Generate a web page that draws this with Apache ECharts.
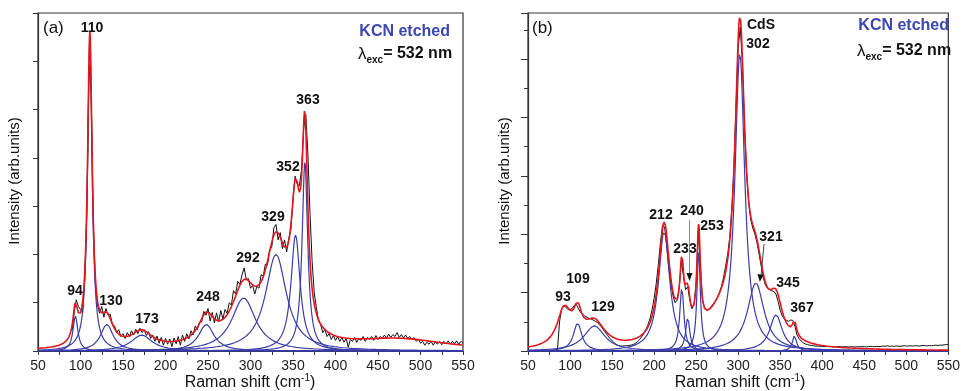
<!DOCTYPE html>
<html>
<head>
<meta charset="utf-8">
<script src="https://cdn.jsdelivr.net/npm/echarts@6.0.0/dist/echarts.min.js"></script>
<style>html,body{margin:0;padding:0;background:#fff;}#c{width:963px;height:391px;}</style>
</head>
<body>
<div id="c"></div>
<script>
// ---------------- data ----------------
const xTickLabels = [50, 100, 150, 200, 250, 300, 350, 400, 450, 500, 550];

// panel (a): fitted Lorentzian components (centre, height, FWHM)
const aPeakNames   = ['94', '110', '130', '173', '248', '292', '329', '352', '363'];
const aPeakCenters = [94, 111, 131, 172, 248, 292, 330, 353, 364];
const aPeakHeights = [0.72, 6.45, 0.55, 0.33, 0.55, 1.1, 2.0, 2.4, 3.9];
const aPeakWidths  = [7, 6.5, 18, 30, 22, 34, 30, 13, 8];
// broad background of the fit (not drawn as a component)
const aBackground  = [475, 0.22, 140];

// panel (a): measured spectrum, starting at 90 cm-1, every 2.5 cm-1
const aMeasuredStart = 90, aMeasuredStep = 2.5;
const aMeasured = [
 0.42,0.78,1.06,0.92,0.86,0.8,1.5,2.9,5.9,5.4,
 2.7,1.4,0.95,0.78,0.92,0.7,0.88,0.74,0.76,0.55,
 0.52,0.38,0.44,0.3,0.36,0.26,0.38,0.3,0.42,0.33,
 0.45,0.36,0.47,0.38,0.44,0.32,0.4,0.26,0.33,0.2,
 0.31,0.16,0.28,0.12,0.26,0.14,0.25,0.09,0.27,0.15,
 0.3,0.12,0.33,0.2,0.36,0.25,0.42,0.33,0.52,0.44,
 0.6,0.6,0.82,0.74,0.88,0.62,0.8,0.58,0.79,0.6,
 0.84,0.66,0.86,0.78,1.0,0.95,1.25,1.18,1.44,1.38,
 1.58,1.72,1.48,1.5,1.3,1.36,1.18,1.34,1.3,1.58,
 1.55,1.8,1.78,2.1,2.15,2.55,2.62,2.3,2.45,2.12,
 2.3,2.05,2.32,2.52,3.12,3.62,3.45,3.42,3.75,4.6,
 4.9,4.1,2.85,1.85,1.2,0.9,0.62,0.55,0.38,0.45,
 0.3,0.36,0.24,0.32,0.22,0.3,0.2,0.28,0.18,0.26,
 0.08,0.24,0.2,0.28,0.18,0.26,0.22,0.3,0.2,0.28,
 0.24,0.3,0.22,0.32,0.24,0.3,0.26,0.33,0.27,0.35,
 0.28,0.34,0.3,0.38,0.28,0.34,0.27,0.33,0.26,0.3,
 0.24,0.28,0.2,0.25,0.16,0.2,0.12,0.18,0.14,0.2,
 0.12,0.19,0.14,0.2,0.13,0.2,0.15,0.21,0.14,0.2,
 0.15,0.21,0.14,0.2,0.16
];

// panel (b): fitted Lorentzian components (centre, height, FWHM)
const bPeakNames   = ['109', '129', '212', '233', '240', '253', '302', '321', '345', '367'];
const bPeakCenters = [109, 129, 212, 233, 240, 253, 302, 321, 345, 367];
const bPeakHeights = [0.95, 0.86, 4.11, 2.16, 1.13, 3.37, 10.2, 2.33, 1.24, 0.52];
const bPeakWidths  = [12, 30, 16, 6, 6, 5, 14, 24, 18, 6];
// fit terms not drawn as components: 93 band and broad shoulder
const bHiddenCenters = [93, 280];
const bHiddenHeights = [1.27, 0.9];
const bHiddenWidths  = [20, 50];

// panel (b): measured spectrum, starting at 85 cm-1, every 2.5 cm-1
const bMeasuredStart = 85, bMeasuredStep = 2.5;
const bMeasured = [
 0.02,1.0,1.45,1.55,1.5,1.43,1.42,1.46,1.56,1.6,
 1.45,1.32,1.26,1.2,1.16,1.12,1.1,1.06,1.02,0.98,
 0.9,0.82,0.72,0.62,0.52,0.43,0.35,0.28,0.22,0.19,
 0.17,0.17,0.18,0.18,0.19,0.2,0.22,0.26,0.31,0.38,
 0.48,0.58,0.72,0.88,1.1,1.4,1.8,2.3,2.95,3.7,
 4.3,4.25,3.6,2.85,2.3,1.9,1.65,1.75,2.2,3.1,
 2.55,2.1,2.2,1.75,1.45,1.6,2.3,4.1,2.9,1.75,
 1.45,1.4,1.42,1.5,1.6,1.7,1.82,1.98,2.2,2.5,
 2.9,3.3,3.9,4.9,6.3,8.4,10.4,11.1,9.9,7.7,
 6.1,5.1,4.5,4.2,4.0,3.7,3.3,2.9,2.5,2.25,
 2.15,2.1,2.06,2.04,1.95,1.7,1.4,1.2,1.1,1.05,
 1.02,1.06,1.05,0.85,0.55,0.42,0.34,0.28,0.24,0.22,
 0.2,0.19,
 0.18,0.17,0.17,0.16,0.16,0.15,0.16,0.15,0.15,0.14,
 0.15,0.14,0.15,0.14,0.14,0.15,0.14,0.14,0.15,0.14,
 0.14,0.15,0.14,0.15,0.15,0.14,0.15,0.16,0.15,0.15,
 0.16,0.15,0.16,0.17,0.16,0.18,0.16,0.17,0.16,0.17,
 0.17,0.16,0.17,0.18,0.17,0.17,0.18,0.17,0.18,0.18,
 0.17,0.18,0.19,0.18,0.18,0.19,0.18,0.19,0.2,0.19,
 0.2,0.2,0.21,0.22,0.22
];

// ---------------- build ----------------
const FONT = '"Liberation Sans", Arial, sans-serif';
const RED = '#e3161e', BLUE = '#3a3ca8', BLACK = '#111111';

function lorentz(c, h, w, x) { const g = w / 2; return h * g * g / ((x - c) * (x - c) + g * g); }
const xs = [];
for (let i = 0; i <= 1000; i++) xs.push(50 + i * 0.5);

function measuredSeries(vals, start, step, gi) {
  return { type: 'line', xAxisIndex: gi, yAxisIndex: gi, symbol: 'none', silent: true, z: 2,
    lineStyle: { color: BLACK, width: 1 }, data: vals.map((v, i) => [start + i * step, v]) };
}
function compSeries(c, h, w, gi) {
  return { type: 'line', xAxisIndex: gi, yAxisIndex: gi, symbol: 'none', silent: true, z: 3,
    lineStyle: { color: BLUE, width: 1.2 }, data: xs.map(x => [x, lorentz(c, h, w, x)]) };
}
function fitSeries(cs, hs, ws, extra, gi) {
  return { type: 'line', xAxisIndex: gi, yAxisIndex: gi, symbol: 'none', silent: true, z: 4,
    lineStyle: { color: RED, width: 1.6 },
    data: xs.map(x => {
      let s = 0;
      for (let k = 0; k < cs.length; k++) s += lorentz(cs[k], hs[k], ws[k], x);
      for (const e of extra) s += lorentz(e[0], e[1], e[2], x);
      return [x, s];
    }) };
}

const series = [];
series.push(measuredSeries(aMeasured, aMeasuredStart, aMeasuredStep, 0));
aPeakCenters.forEach((c, k) => series.push(compSeries(c, aPeakHeights[k], aPeakWidths[k], 0)));
series.push(fitSeries(aPeakCenters, aPeakHeights, aPeakWidths, [aBackground], 0));

series.push(measuredSeries(bMeasured, bMeasuredStart, bMeasuredStep, 1));
bPeakCenters.forEach((c, k) => series.push(compSeries(c, bPeakHeights[k], bPeakWidths[k], 1)));
series.push(fitSeries(bPeakCenters, bPeakHeights, bPeakWidths,
  bHiddenCenters.map((c, k) => [c, bHiddenHeights[k], bHiddenWidths[k]]), 1));

function xAxisCfg(gi) {
  return { gridIndex: gi, type: 'value', min: 50, max: 550, interval: 50,
    axisLine: { show: true, onZero: false, lineStyle: { color: '#333', width: 1.2 } },
    axisTick: { show: true, length: 4, inside: false, lineStyle: { color: '#333', width: 1 } },
    minorTick: { show: true, splitNumber: 2, length: 4, lineStyle: { color: '#333', width: 1 } },
    splitLine: { show: false }, minorSplitLine: { show: false },
    axisLabel: { fontSize: 14, color: '#222', margin: 8, fontFamily: FONT,
      formatter: v => xTickLabels.includes(v) ? String(v) : '' } };
}

const option = {
  animation: false,
  backgroundColor: '#fff',
  grid: [
    { left: 38, top: 13, width: 425, height: 338, show: true, borderColor: '#333', borderWidth: 1.2, backgroundColor: 'transparent' },
    { left: 528, top: 13, width: 424, height: 338, show: true, borderColor: '#333', borderWidth: 1.2, backgroundColor: 'transparent' }
  ],
  xAxis: [xAxisCfg(0), xAxisCfg(1)],
  yAxis: [
    { gridIndex: 0, type: 'value', min: 0, max: 7, interval: 1,
      axisLine: { show: true, onZero: false, lineStyle: { color: '#333', width: 1.2 } },
      axisTick: { show: true, length: 5, inside: false, lineStyle: { color: '#333' } },
      axisLabel: { show: false }, splitLine: { show: false } },
    { gridIndex: 1, type: 'value', min: 0, max: 11.58, interval: 2,
      axisLine: { show: true, onZero: false, lineStyle: { color: '#333', width: 1.2 } },
      axisTick: { show: true, length: 7, inside: false, lineStyle: { color: '#333' } },
      minorTick: { show: true, splitNumber: 2, length: 4, lineStyle: { color: '#333' } },
      axisLabel: { show: false }, splitLine: { show: false }, minorSplitLine: { show: false } }
  ],
  series: series,
  graphic: []
};

function label(text, x, y) {
  return { type: 'text', x: x, y: y, silent: true, z: 100,
    style: { text: text, font: 'bold 14px ' + FONT, fill: '#111', align: 'center', verticalAlign: 'middle' } };
}
const g = option.graphic;
// panel (a) texts
g.push({ type: 'text', x: 43, y: 28, z: 100, style: { text: '(a)', font: '17px ' + FONT, fill: '#111', align: 'left', verticalAlign: 'middle' } });
const aLabelPos = [[75, 291], [92, 28], [111, 301], [147, 319], [208, 297], [248, 258], [273, 217], [288, 167], [308, 100]];
aPeakNames.forEach((t, k) => g.push(label(t, aLabelPos[k][0], aLabelPos[k][1])));
// panel (b) texts
g.push({ type: 'text', x: 532, y: 28, z: 100, style: { text: '(b)', font: '17px ' + FONT, fill: '#111', align: 'left', verticalAlign: 'middle' } });
g.push(label('93', 563, 297));
const bLabelPos = [[578, 279], [603, 307], [661, 215], [685, 249], [692, 211], [712, 226], [758, 44], [771, 237], [788, 283], [802, 308]];
bPeakNames.forEach((t, k) => g.push(label(t, bLabelPos[k][0], bLabelPos[k][1])));
g.push({ type: 'text', x: 747, y: 25, z: 100, style: { text: 'CdS', font: 'bold 14px ' + FONT, fill: '#111', align: 'left', verticalAlign: 'middle' } });

// arrows in (b)
g.push({ type: 'line', z: 90, silent: true, shape: { x1: 689.5, y1: 220, x2: 689.5, y2: 275 }, style: { stroke: '#888', lineWidth: 1 } });
g.push({ type: 'polygon', z: 90, silent: true, shape: { points: [[686.5, 273], [692.5, 273], [689.5, 281]] }, style: { fill: '#111' } });
g.push({ type: 'line', z: 90, silent: true, shape: { x1: 764, y1: 244, x2: 761, y2: 276 }, style: { stroke: '#444', lineWidth: 1 } });
g.push({ type: 'polygon', z: 90, silent: true, shape: { points: [[757.5, 274], [763.5, 275], [759.8, 282]] }, style: { fill: '#111' } });

// KCN etched + excitation
function kcn(xr, y) {
  return { type: 'text', x: xr, y: y, z: 100, style: { text: 'KCN etched', font: 'bold 16px ' + FONT, fill: '#3d47b0', align: 'right', verticalAlign: 'middle' } };
}
function lam(xl, y) {
  return { type: 'text', x: xl, y: y, z: 100, style: {
    text: '{l|λ}{s|exc}{b|= 532 nm}', align: 'left', verticalAlign: 'middle',
    rich: {
      l: { fontFamily: FONT, fontSize: 17, fill: '#111', color: '#111', lineHeight: 22, verticalAlign: 'middle' },
      s: { fontFamily: FONT, fontSize: 10, fontWeight: 'bold', fill: '#111', color: '#111', lineHeight: 10, verticalAlign: 'bottom' },
      b: { fontFamily: FONT, fontSize: 16, fontWeight: 'bold', fill: '#111', color: '#111', lineHeight: 22, verticalAlign: 'middle' }
    } } };
}
g.push(kcn(450, 32)); g.push(lam(358, 54));
g.push(kcn(949, 26)); g.push(lam(857, 51));

// axis names
function xName(cx) {
  return { type: 'text', x: cx, y: 383, z: 100, style: {
    text: '{n|Raman shift (cm}{p|-1}{n|)}', align: 'center', verticalAlign: 'middle',
    rich: {
      n: { fontFamily: FONT, fontSize: 16, fill: '#111', color: '#111', lineHeight: 20, verticalAlign: 'middle' },
      p: { fontFamily: FONT, fontSize: 10, fill: '#111', color: '#111', lineHeight: 10, verticalAlign: 'top' }
    } } };
}
function yName(cx) {
  return { type: 'text', x: cx, y: 181, rotation: Math.PI / 2, z: 100, style: {
    text: 'Intensity (arb.units)', font: '15px ' + FONT, fill: '#111', align: 'center', verticalAlign: 'middle' } };
}
g.push(xName(250)); g.push(xName(740));
g.push(yName(15)); g.push(yName(505));

const chart = echarts.init(document.getElementById('c'), null, { renderer: 'canvas' });
chart.setOption(option);
</script>
</body>
</html>
